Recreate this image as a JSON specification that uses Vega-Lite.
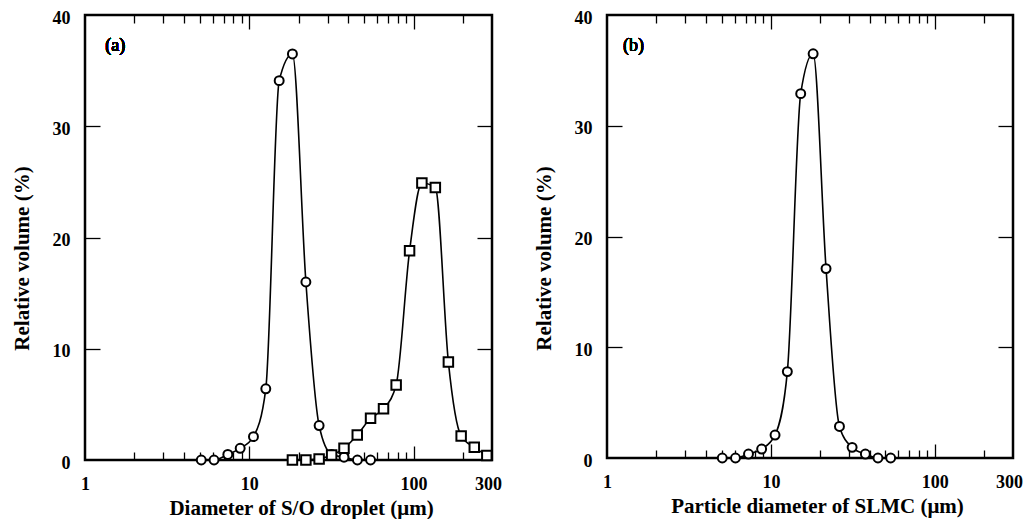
{
  "$schema": "https://vega.github.io/schema/vega-lite/v6.json",
  "background": "white",
  "padding": {"left": 9, "top": 7, "right": 0, "bottom": 0},
  "spacing": 28,
  "config": {
    "view": {"stroke": "black", "strokeWidth": 2.5},
    "font": "Liberation Serif",
    "axis": {
      "domain": false, "grid": false,
      "labelFont": "Liberation Serif", "labelFontWeight": "bold", "labelFontSize": 18, "labelColor": "black",
      "tickColor": "black", "tickWidth": 1.3,
      "titleFont": "Liberation Serif", "titleFontWeight": "bold", "titleFontSize": 21, "titleColor": "black",
      "labelFlush": false, "labelOverlap": false, "labelBound": false
    }
  },
  "datasets": {
    "pts": [
      {"panel": "a", "series": "c", "d": 5.1, "v": 0},
      {"panel": "a", "series": "c", "d": 6.1, "v": 0},
      {"panel": "a", "series": "c", "d": 7.4, "v": 0.5},
      {"panel": "a", "series": "c", "d": 8.8, "v": 1.05},
      {"panel": "a", "series": "c", "d": 10.6, "v": 2.1},
      {"panel": "a", "series": "c", "d": 12.6, "v": 6.4},
      {"panel": "a", "series": "c", "d": 15.2, "v": 34.1},
      {"panel": "a", "series": "c", "d": 18.3, "v": 36.5},
      {"panel": "a", "series": "c", "d": 22.1, "v": 16.0},
      {"panel": "a", "series": "c", "d": 26.6, "v": 3.1},
      {"panel": "a", "series": "c", "d": 31.7, "v": 0.5},
      {"panel": "a", "series": "c", "d": 37.7, "v": 0.25},
      {"panel": "a", "series": "c", "d": 45.5, "v": 0},
      {"panel": "a", "series": "c", "d": 54.7, "v": 0},
      {"panel": "a", "series": "s", "d": 18.3, "v": 0},
      {"panel": "a", "series": "s", "d": 22.1, "v": 0},
      {"panel": "a", "series": "s", "d": 26.6, "v": 0.1},
      {"panel": "a", "series": "s", "d": 31.7, "v": 0.45},
      {"panel": "a", "series": "s", "d": 37.7, "v": 1.05},
      {"panel": "a", "series": "s", "d": 45.4, "v": 2.25},
      {"panel": "a", "series": "s", "d": 54.7, "v": 3.75},
      {"panel": "a", "series": "s", "d": 65.6, "v": 4.6},
      {"panel": "a", "series": "s", "d": 78.3, "v": 6.75},
      {"panel": "a", "series": "s", "d": 94.5, "v": 18.8},
      {"panel": "a", "series": "s", "d": 112.3, "v": 24.9},
      {"panel": "a", "series": "s", "d": 135.6, "v": 24.5},
      {"panel": "a", "series": "s", "d": 162.8, "v": 8.8},
      {"panel": "a", "series": "s", "d": 194.7, "v": 2.15},
      {"panel": "a", "series": "s", "d": 234, "v": 1.15},
      {"panel": "a", "series": "s", "d": 279, "v": 0.4},
      {"panel": "b", "series": "c", "d": 5.05, "v": 0},
      {"panel": "b", "series": "c", "d": 6.08, "v": 0},
      {"panel": "b", "series": "c", "d": 7.3, "v": 0.36},
      {"panel": "b", "series": "c", "d": 8.78, "v": 0.81},
      {"panel": "b", "series": "c", "d": 10.6, "v": 2.07},
      {"panel": "b", "series": "c", "d": 12.6, "v": 7.8},
      {"panel": "b", "series": "c", "d": 15.2, "v": 32.9},
      {"panel": "b", "series": "c", "d": 18.1, "v": 36.5},
      {"panel": "b", "series": "c", "d": 21.7, "v": 17.1},
      {"panel": "b", "series": "c", "d": 26.2, "v": 2.85},
      {"panel": "b", "series": "c", "d": 31.3, "v": 0.96},
      {"panel": "b", "series": "c", "d": 37.7, "v": 0.36},
      {"panel": "b", "series": "c", "d": 45, "v": 0},
      {"panel": "b", "series": "c", "d": 53.8, "v": 0}
    ]
  },
  "hconcat": [
    {
      "width": 407, "height": 445,
      "data": {"name": "pts"},
      "transform": [{"filter": "datum.panel === 'a'"}],
      "resolve": {"axis": {"x": "independent", "y": "independent"}},
      "layer": [
        {
          "mark": {"type": "line", "interpolate": "monotone", "color": "black", "strokeWidth": 1.6},
          "encoding": {
            "x": {"field": "d", "type": "quantitative", "scale": {"type": "log", "domain": [1, 300], "nice": false},
                  "axis": {"orient": "bottom", "values": [1, 10, 100, 300], "format": "d", "ticks": false, "labelPadding": 15, "labelOffset": {"condition": {"test": "datum.value === 300", "value": -4}, "value": 0}, "title": "Diameter of S/O droplet (μm)", "titlePadding": 4, "titleX": 216}},
            "y": {"field": "v", "type": "quantitative", "scale": {"domain": [0, 40], "nice": false},
                  "axis": {"orient": "left", "values": [0, 10, 20, 30, 40], "ticks": false, "labelPadding": 15, "labelOffset": 3, "title": "Relative volume (%)", "titlePadding": 20, "titleY": 243}},
            "detail": {"field": "series"}
          }
        },
        {
          "mark": {"type": "point", "filled": true, "fill": "white", "stroke": "black", "strokeWidth": 2, "opacity": 1},
          "encoding": {
            "x": {"field": "d", "type": "quantitative", "scale": {"type": "log", "domain": [1, 300], "nice": false},
                  "axis": {"orient": "bottom", "values": [2, 3, 4, 5, 6, 7, 8, 9, 20, 30, 40, 50, 60, 70, 80, 90, 200], "tickSize": 8, "offset": -8, "labels": false, "title": null}},
            "y": {"field": "v", "type": "quantitative", "scale": {"domain": [0, 40], "nice": false},
                  "axis": {"orient": "right", "values": [10, 20, 30], "tickSize": 15, "offset": -15, "labels": false, "title": null}},
            "shape": {"field": "series", "scale": {"domain": ["c", "s"], "range": ["circle", "square"]}, "legend": null},
            "size": {"field": "series", "scale": {"domain": ["c", "s"], "range": [80, 90]}, "legend": null}
          }
        },
        {
          "mark": {"type": "point", "opacity": 0},
          "encoding": {
            "x": {"field": "d", "type": "quantitative", "scale": {"type": "log", "domain": [1, 300], "nice": false},
                  "axis": {"orient": "bottom", "values": [10, 100], "tickSize": 14, "offset": -14, "labels": false, "title": null}},
            "y": {"field": "v", "type": "quantitative", "scale": {"domain": [0, 40], "nice": false},
                  "axis": {"orient": "left", "values": [10, 20, 30], "tickSize": 15, "offset": -15, "labels": false, "title": null}}
          }
        },
        {
          "mark": {"type": "point", "opacity": 0},
          "encoding": {
            "x": {"field": "d", "type": "quantitative", "scale": {"type": "log", "domain": [1, 300], "nice": false},
                  "axis": {"orient": "top", "values": [10, 100], "tickSize": 14, "offset": -14, "labels": false, "title": null}},
            "y": {"field": "v", "type": "quantitative", "scale": {"domain": [0, 40], "nice": false}, "axis": null}
          }
        },
        {
          "mark": {"type": "point", "opacity": 0},
          "encoding": {
            "x": {"field": "d", "type": "quantitative", "scale": {"type": "log", "domain": [1, 300], "nice": false},
                  "axis": {"orient": "top", "values": [2, 3, 4, 5, 6, 7, 8, 9, 20, 30, 40, 50, 60, 70, 80, 90, 200], "tickSize": 8, "offset": -8, "labels": false, "title": null}},
            "y": {"field": "v", "type": "quantitative", "scale": {"domain": [0, 40], "nice": false}, "axis": null}
          }
        },
        {
          "mark": {"type": "text", "text": "(a)", "align": "left", "baseline": "middle", "fontSize": 18, "fontWeight": "normal", "font": "Liberation Serif", "color": "black"},
          "encoding": {
            "x": {"datum": 1.33, "type": "quantitative", "scale": {"type": "log", "domain": [1, 300], "nice": false}, "axis": null},
            "y": {"datum": 37.2, "type": "quantitative", "scale": {"domain": [0, 40], "nice": false}, "axis": null}
          }
        }
      ]
    },
    {
      "width": 406, "height": 443,
      "data": {"name": "pts"},
      "transform": [{"filter": "datum.panel === 'b'"}],
      "resolve": {"axis": {"x": "independent", "y": "independent"}},
      "layer": [
        {
          "mark": {"type": "line", "interpolate": "monotone", "color": "black", "strokeWidth": 1.6},
          "encoding": {
            "x": {"field": "d", "type": "quantitative", "scale": {"type": "log", "domain": [1, 300], "nice": false},
                  "axis": {"orient": "bottom", "values": [1, 10, 100, 300], "format": "d", "ticks": false, "labelPadding": 15, "labelOffset": {"condition": {"test": "datum.value === 300", "value": -4}, "value": 0}, "title": "Particle diameter of SLMC (μm)", "titlePadding": 4, "titleX": 210}},
            "y": {"field": "v", "type": "quantitative", "scale": {"domain": [0, 40], "nice": false},
                  "axis": {"orient": "left", "values": [0, 10, 20, 30, 40], "ticks": false, "labelPadding": 15, "labelOffset": 3, "title": "Relative volume (%)", "titlePadding": 20, "titleY": 243}},
            "detail": {"field": "series"}
          }
        },
        {
          "mark": {"type": "point", "filled": true, "fill": "white", "stroke": "black", "strokeWidth": 2, "opacity": 1},
          "encoding": {
            "x": {"field": "d", "type": "quantitative", "scale": {"type": "log", "domain": [1, 300], "nice": false},
                  "axis": {"orient": "bottom", "values": [2, 3, 4, 5, 6, 7, 8, 9, 20, 30, 40, 50, 60, 70, 80, 90, 200], "tickSize": 8, "offset": -8, "labels": false, "title": null}},
            "y": {"field": "v", "type": "quantitative", "scale": {"domain": [0, 40], "nice": false},
                  "axis": {"orient": "right", "values": [10, 20, 30], "tickSize": 15, "offset": -15, "labels": false, "title": null}},
            "shape": {"field": "series", "scale": {"domain": ["c", "s"], "range": ["circle", "square"]}, "legend": null},
            "size": {"field": "series", "scale": {"domain": ["c", "s"], "range": [80, 90]}, "legend": null}
          }
        },
        {
          "mark": {"type": "point", "opacity": 0},
          "encoding": {
            "x": {"field": "d", "type": "quantitative", "scale": {"type": "log", "domain": [1, 300], "nice": false},
                  "axis": {"orient": "bottom", "values": [10, 100], "tickSize": 14, "offset": -14, "labels": false, "title": null}},
            "y": {"field": "v", "type": "quantitative", "scale": {"domain": [0, 40], "nice": false},
                  "axis": {"orient": "left", "values": [10, 20, 30], "tickSize": 15, "offset": -15, "labels": false, "title": null}}
          }
        },
        {
          "mark": {"type": "point", "opacity": 0},
          "encoding": {
            "x": {"field": "d", "type": "quantitative", "scale": {"type": "log", "domain": [1, 300], "nice": false},
                  "axis": {"orient": "top", "values": [10, 100], "tickSize": 14, "offset": -14, "labels": false, "title": null}},
            "y": {"field": "v", "type": "quantitative", "scale": {"domain": [0, 40], "nice": false}, "axis": null}
          }
        },
        {
          "mark": {"type": "point", "opacity": 0},
          "encoding": {
            "x": {"field": "d", "type": "quantitative", "scale": {"type": "log", "domain": [1, 300], "nice": false},
                  "axis": {"orient": "top", "values": [2, 3, 4, 5, 6, 7, 8, 9, 20, 30, 40, 50, 60, 70, 80, 90, 200], "tickSize": 8, "offset": -8, "labels": false, "title": null}},
            "y": {"field": "v", "type": "quantitative", "scale": {"domain": [0, 40], "nice": false}, "axis": null}
          }
        },
        {
          "mark": {"type": "text", "text": "(b)", "align": "left", "baseline": "middle", "fontSize": 18, "fontWeight": "normal", "font": "Liberation Serif", "color": "black"},
          "encoding": {
            "x": {"datum": 1.25, "type": "quantitative", "scale": {"type": "log", "domain": [1, 300], "nice": false}, "axis": null},
            "y": {"datum": 37.2, "type": "quantitative", "scale": {"domain": [0, 40], "nice": false}, "axis": null}
          }
        }
      ]
    }
  ]
}
